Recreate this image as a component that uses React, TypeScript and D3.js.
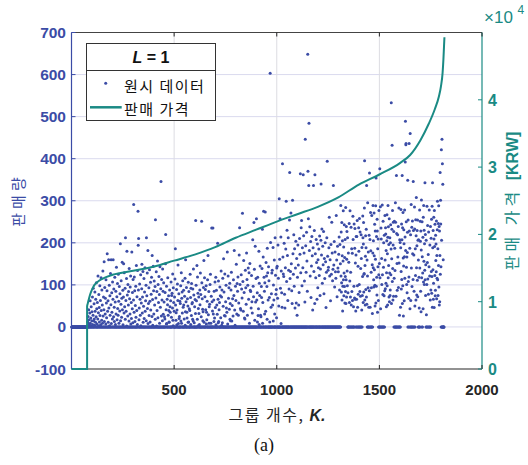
import React from 'react';
import * as d3 from 'd3';

// ---------------- DATA ----------------
// Sales volume (판매량) for each group K = index + 1.
const salesK1to450 = [
  0,0,0,0,0,0,0,0,0,0,0,0,0,0,0,0,0,0,0,0,0,0,0,0,0,
  0,0,0,0,0,0,0,0,0,0,0,0,0,0,0,0,0,0,0,0,0,0,0,0,0,
  0,0,0,0,0,0,0,0,0,0,0,0,0,0,0,0,0,0,0,0,0,0,0,0,0,
  0,0,3,12,0,25,0,8,41,0,17,0,5,33,0,62,9,0,21,0,48,2,0,15,36,
  0,71,6,0,28,92,0,14,0,55,19,0,4,83,37,0,11,66,0,24,105,0,43,7,0,
  58,0,19,121,0,34,3,77,0,46,12,0,98,27,0,63,5,0,117,39,0,16,88,0,52,
  9,0,133,26,0,71,0,41,155,13,0,94,0,31,68,0,7,112,0,57,22,0,86,174,0,
  37,0,62,11,0,160,45,0,99,3,0,74,28,0,127,0,53,160,8,0,81,35,0,19,107,
  0,66,160,0,24,90,0,47,13,0,118,0,59,6,0,85,31,0,142,0,72,17,0,103,44,
  0,28,125,0,61,9,0,96,0,38,79,0,198,15,0,54,110,0,23,68,0,154,41,0,87,
  5,0,71,150,0,33,129,0,48,0,92,18,212,0,63,37,0,115,2,180,0,76,0,26,101,
  0,52,84,0,14,139,0,67,0,31,95,0,121,7,0,58,20,0,178,0,43,82,0,10,113,
  0,64,291,0,35,119,0,86,13,0,51,0,97,23,0,146,0,39,72,0,6,134,0,275,194,
  88,210,0,17,45,0,102,0,66,28,0,124,3,0,57,0,91,149,0,33,71,0,132,11,0,
  49,0,115,20,0,83,0,141,37,0,62,0,99,15,212,0,74,0,128,44,0,182,8,0,56,
  0,93,27,0,136,0,61,12,0,106,40,0,78,0,118,0,25,170,0,65,4,0,144,0,86,
  31,0,109,0,52,0,96,18,255,0,69,0,131,2,0,84,39,0,157,0,22,101,0,58,0,
  120,0,77,9,0,143,0,47,0,91,346,0,26,113,0,64,0,15,138,0,85,30,0,105,0,
];
const salesK451to900 = [
  59,0,24,0,19,82,0,150,220,0,41,7,97,8,0,66,0,53,117,0,28,0,74,39,12,
  11,0,88,0,48,35,0,62,0,107,0,23,75,0,80,0,45,126,16,3,93,0,58,0,37,
  0,71,0,114,0,186,52,0,16,34,0,89,5,40,0,102,0,63,147,0,8,0,79,20,0,
  25,0,61,0,56,0,98,14,0,129,9,68,0,83,33,0,110,0,47,0,87,52,0,19,0,
  73,0,116,4,36,160,0,60,0,94,0,35,21,0,67,0,50,11,106,0,12,84,0,43,0,
  39,0,125,0,70,6,92,0,27,103,0,55,0,58,18,90,0,14,138,0,76,0,10,0,48,
  0,65,0,32,253,0,99,0,62,0,146,0,18,119,0,80,3,44,0,71,32,0,6,0,88,
  53,0,128,0,77,0,24,0,251,105,0,67,0,42,15,36,0,94,0,158,11,0,117,0,72,
  0,89,0,41,0,98,7,35,17,0,61,0,112,0,170,0,29,0,84,9,48,0,54,0,101,
  0,125,0,9,0,73,0,235,0,60,0,38,0,235,0,31,0,64,13,85,0,21,0,107,0,
  46,0,118,5,0,87,0,52,0,30,0,199,0,66,10,109,13,0,41,0,58,0,95,0,74,
  0,22,0,133,0,71,4,88,0,10,0,116,0,49,0,162,0,83,0,27,0,126,0,26,0,
  60,0,99,0,45,0,35,0,178,0,7,0,121,0,68,0,93,0,42,0,104,18,56,0,15,
  0,88,0,130,0,14,0,51,0,67,0,26,0,112,0,75,0,182,0,40,0,4,0,97,0,
  63,0,149,0,31,0,103,0,85,0,119,0,28,0,57,0,171,0,236,0,101,0,44,0,40,
  0,124,0,90,0,69,0,270,0,108,0,37,0,158,0,82,0,21,0,19,0,135,0,93,0,
  54,0,176,0,113,0,28,0,99,0,140,0,66,0,129,0,9,0,151,0,87,0,84,0,45,
  0,122,0,60,0,33,0,207,0,97,0,72,0,248,0,137,0,16,0,192,0,59,0,115,0,
];
const salesK901to1350 = [
  257,0,64,0,81,12,118,0,27,0,43,0,180,6,104,0,75,0,145,0,28,0,24,0,96,
  70,0,139,0,232,9,58,0,166,0,275,0,118,0,85,31,105,0,273,0,37,0,153,0,121,
  0,96,18,187,0,129,0,64,0,143,0,110,0,70,0,12,0,603,0,201,0,47,0,79,0,
  128,0,135,0,52,0,189,14,100,0,64,0,159,0,31,0,212,0,123,0,78,0,89,22,140,
  0,144,0,68,0,195,0,116,0,50,0,305,0,161,0,257,0,92,0,214,8,133,0,81,0,
  47,0,388,0,166,0,126,0,120,0,199,0,78,0,45,0,141,0,185,0,299,0,108,0,230,
  0,170,0,63,0,212,0,135,0,90,0,254,367,0,115,0,132,0,271,0,150,0,86,0,56,
  0,301,0,174,0,125,0,219,0,97,0,186,0,45,0,140,0,204,0,57,0,163,0,28,0,
  118,0,195,0,147,0,52,0,82,0,210,0,173,0,364,0,129,0,236,0,253,0,98,0,188,
  0,141,0,362,0,217,0,176,0,109,0,59,0,446,0,193,0,130,0,225,0,157,0,85,0,
  648,370,0,257,0,336,484,0,182,0,238,0,121,0,203,0,70,0,145,0,215,0,169,0,40,
  0,188,0,336,0,132,0,229,0,56,362,0,174,0,117,0,208,0,153,0,66,0,197,0,93,
  160,0,141,0,185,0,122,0,216,0,75,0,138,0,206,340,0,171,0,233,0,104,0,192,0,
  148,0,227,0,79,0,163,0,115,0,200,0,155,0,46,0,130,0,212,0,394,0,168,0,135,
  0,142,0,188,0,261,0,121,0,160,0,62,0,196,0,125,0,249,0,176,0,110,0,137,0,
  336,0,147,0,203,0,95,0,178,0,131,0,116,0,265,0,159,0,72,0,192,0,140,0,131,
  0,173,0,214,0,88,0,196,0,150,0,289,121,226,83,105,248,64,169,205,38,97,157,276,112,
  190,74,128,243,96,165,57,208,120,84,284,56,112,239,71,161,227,133,98,212,0,81,0,176,0,
];
const salesK1351to1815 = [
  154,0,246,58,0,109,276,0,71,130,0,237,52,0,186,84,0,175,63,0,263,208,0,48,0,
  97,245,0,69,187,234,66,152,0,38,171,215,0,66,215,0,253,98,47,0,144,78,0,236,180,
  0,101,258,0,84,226,0,73,139,0,219,163,0,40,189,0,75,120,264,212,58,197,248,83,125,
  127,283,395,64,146,52,168,217,89,188,232,71,336,54,159,0,121,295,0,93,178,0,47,0,218,
  86,366,0,208,47,0,272,181,0,130,93,0,265,0,148,32,0,176,289,141,205,112,95,271,169,
  136,244,99,50,228,161,288,57,354,97,215,118,76,256,228,35,186,143,209,63,0,124,277,0,151,
  0,376,117,0,286,43,0,235,209,0,163,101,0,290,124,0,77,251,0,142,200,0,74,218,0,
  86,265,159,91,236,221,104,182,48,129,205,267,98,174,52,213,289,117,238,146,196,71,257,60,128,
  212,75,88,200,243,124,185,533,56,162,232,432,108,277,139,64,195,249,73,227,0,116,251,0,187,
  134,0,295,249,0,73,0,360,222,0,151,87,0,219,166,0,239,94,0,283,152,0,28,207,0,
  201,0,47,188,279,132,90,245,113,207,360,56,236,98,272,164,26,145,231,198,62,167,278,116,214,
  392,489,182,433,436,250,142,101,166,81,177,225,349,0,254,108,0,68,119,436,228,0,187,43,460,
  0,219,63,0,291,140,0,237,96,0,252,174,0,113,346,229,0,171,85,0,285,233,50,0,186,
  122,255,64,217,308,141,76,193,229,111,254,72,206,0,159,207,0,118,45,0,278,140,0,251,204,
  85,228,36,183,302,117,0,250,167,0,128,213,43,261,107,289,156,230,101,198,135,343,112,220,75,
  148,0,206,29,0,101,287,0,153,241,114,0,172,78,226,0,143,278,0,121,195,0,64,239,0,
  88,211,132,256,80,120,287,47,343,188,136,229,66,104,261,209,46,277,191,122,244,74,87,218,158,
  197,131,252,67,170,116,231,299,112,186,75,246,146,288,95,239,52,228,60,170,367,125,301,245,143,
  0,421,206,0,446,0,388,0,339,0,160,0,0,0,0,
];

// Sales price curve (판매 가격), KRW, sorted by group K
const priceK = [0, 76, 76, 79, 83, 90, 100, 112, 125, 150, 200, 300, 400, 500, 600, 700, 800, 900, 1000,
  1100, 1200, 1300, 1400, 1500, 1600, 1650, 1700, 1740, 1770, 1790, 1800, 1808, 1812, 1815, 1817];
const priceKRW = [0, 0, 9300, 9700, 10200, 11000, 11800, 12500, 12900, 13400, 14000, 14600, 15200, 16100,
  17000, 18100, 19500, 20700, 21900, 23000, 24100, 25500, 27400, 28900, 30600, 31800, 34000, 36400,
  38600, 40500, 42000, 44000, 46000, 48000, 49300];

const xTicks = [500, 1000, 1500, 2000];
const salesTicks = [-100, 0, 100, 200, 300, 400, 500, 600, 700];
const priceTicks = [0, 10000, 20000, 30000, 40000];
const priceTickLabels = ['0', '1', '2', '3', '4'];

// ---------------- STYLE ----------------
const BLUE = '#3b4ca6';
const TEAL = '#1a8a84';
const DARK = '#262626';
const NUM_FONT = "'Liberation Sans', Arial, sans-serif";
const KR_FONT = "'Noto Sans CJK KR', 'Noto Sans', sans-serif";

export default function App() {
  const W = 528, H = 465;
  const L = 71.5, R = 482, T = 32.5, B = 369;

  const x = d3.scaleLinear().domain([0, 2000]).range([L, R]);
  const yS = d3.scaleLinear().domain([-100, 700]).range([B, T]);
  const yP = d3.scaleLinear().domain([0, 50000]).range([B, T]);

  const sales = [...salesK1to450, ...salesK451to900, ...salesK901to1350, ...salesK1351to1815];
  const points = sales.map((v, i) => ({ k: i + 1, v }));

  const priceLine = d3.line<number>()
    .x((_, i) => x(priceK[i]))
    .y((d) => yP(d))
    .curve(d3.curveMonotoneX)(priceKRW) || '';

  return (
    <svg width={W} height={H} style={{ position: 'absolute', left: 0, top: 0, background: '#fff' }}>
      <rect x={0} y={0} width={W} height={H} fill="#fff" />
      {/* grid */}
      {salesTicks.filter(t => t > -100 && t < 700).map(t => (
        <line key={'gy' + t} x1={L} x2={R} y1={yS(t)} y2={yS(t)} stroke="#dadaee" strokeWidth={1} />
      ))}
      {xTicks.filter(t => t < 2000).map(t => (
        <line key={'gx' + t} x1={x(t)} x2={x(t)} y1={T} y2={B} stroke="#dcdce2" strokeWidth={1} />
      ))}

      {/* scatter */}
      <g fill={BLUE}>
        {points.map(p => (
          <circle key={p.k} cx={x(p.k)} cy={yS(p.v)} r={1.5} />
        ))}
      </g>

      {/* axes */}
      <line x1={L} x2={R} y1={T} y2={T} stroke="#444" strokeWidth={1} />
      <line x1={L} x2={R} y1={B} y2={B} stroke={DARK} strokeWidth={1.2} />
      <line x1={L} x2={L} y1={T} y2={B} stroke={BLUE} strokeWidth={1.2} />
      <line x1={R} x2={R} y1={T} y2={B} stroke={TEAL} strokeWidth={1.2} />

      {xTicks.map(t => (
        <g key={'xt' + t}>
          <line x1={x(t)} x2={x(t)} y1={B} y2={B - 4} stroke={DARK} />
          <line x1={x(t)} x2={x(t)} y1={T} y2={T + 4} stroke={DARK} />
          <text x={x(t)} y={395} textAnchor="middle" fontFamily={NUM_FONT} fontWeight="bold" fontSize={15} fill={DARK}>{t}</text>
        </g>
      ))}
      {salesTicks.map(t => (
        <g key={'yt' + t}>
          <line x1={L} x2={L + 4} y1={yS(t)} y2={yS(t)} stroke={BLUE} />
          <text x={66} y={yS(t) + 5.5} textAnchor="end" fontFamily={NUM_FONT} fontWeight="bold" fontSize={15.5} fill={BLUE}>{t}</text>
        </g>
      ))}
      {priceTicks.map((t, i) => (
        <g key={'pt' + t}>
          <line x1={R} x2={R - 4} y1={yP(t)} y2={yP(t)} stroke={TEAL} />
          <text x={488} y={yP(t) + 6} textAnchor="start" fontFamily={NUM_FONT} fontWeight="bold" fontSize={16} fill={TEAL}>{priceTickLabels[i]}</text>
        </g>
      ))}
      <text x={484} y={23} fontFamily={NUM_FONT} fontSize={17} fill={TEAL}>×10</text>
      <text x={517.5} y={14} fontFamily={NUM_FONT} fontSize={12} fill={TEAL}>4</text>

      {/* price line */}
      <path d={priceLine} fill="none" stroke={TEAL} strokeWidth={2} />

      {/* axis labels */}
      <text transform="translate(24,200) rotate(-90)" textAnchor="middle" fontFamily={KR_FONT} fontSize={15} fill={BLUE} letterSpacing={4}>판매량</text>
      <text transform="translate(518,201) rotate(-90)" textAnchor="middle" fontSize={16} fill={TEAL}>
        <tspan fontFamily={KR_FONT} letterSpacing={4}>판매 가격 </tspan>
        <tspan fontFamily={NUM_FONT} fontWeight="bold">[KRW]</tspan>
      </text>
      <text x={277} y={421} textAnchor="middle" fontSize={16} fill={DARK}>
        <tspan fontFamily={KR_FONT} letterSpacing={1.5}>그룹 개수, </tspan>
        <tspan fontFamily={NUM_FONT} fontWeight="bold" fontStyle="italic">K.</tspan>
      </text>
      <text x={264} y={451} textAnchor="middle" fontFamily="'Liberation Serif', 'Times New Roman', serif" fontSize={18} fill="#111">(a)</text>

      {/* legend */}
      <rect x={86.5} y={43.5} width={129} height={77} fill="#fff" stroke="#333" strokeWidth={1} />
      <line x1={86.5} x2={215.5} y1={70.5} y2={70.5} stroke="#333" strokeWidth={1} />
      <text x={151} y={63} textAnchor="middle" fontFamily={NUM_FONT} fontWeight="bold" fontSize={16} fill="#111">
        <tspan fontStyle="italic">L</tspan> = 1
      </text>
      <circle cx={105.7} cy={83.3} r={1.5} fill={BLUE} />
      <text x={124} y={92} fontFamily={KR_FONT} fontSize={15} letterSpacing={1.5} fill="#111">원시 데이터</text>
      <line x1={90} x2={121.7} y1={107.3} y2={107.3} stroke={TEAL} strokeWidth={2.5} />
      <text x={124} y={115} fontFamily={KR_FONT} fontSize={15} letterSpacing={1.5} fill="#111">판매 가격</text>
    </svg>
  );
}
